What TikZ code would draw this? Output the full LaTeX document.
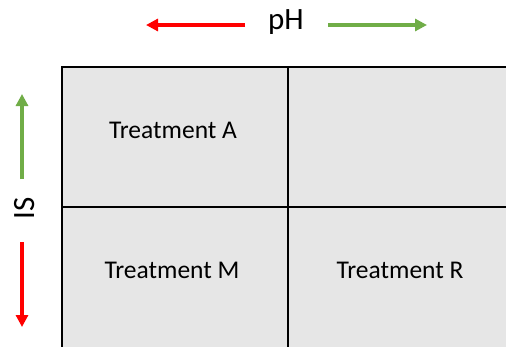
\documentclass[tikz,border=0pt]{standalone}
\usepackage{fontspec}
\setmainfont{Carlito}
\usetikzlibrary{arrows.meta}
\definecolor{cellgray}{HTML}{E6E6E6}
\definecolor{arrred}{HTML}{FF0000}
\definecolor{arrgreen}{HTML}{70AD47}
\tikzset{
  cell/.style={draw=black,line width=1.8pt,fill=cellgray,minimum width=226pt,minimum height=143pt,inner sep=0pt},
  celltext/.style={font=\fontsize{25.5}{28}\selectfont,inner sep=0pt},
  axislabel/.style={font=\fontsize{31}{34}\selectfont,inner sep=0pt},
  axarrow/.style={line width=3.2pt,-{Triangle[length=12pt,width=12pt]}},
}
\begin{document}
\begin{tikzpicture}[x=1pt,y=-1pt]
\useasboundingbox (0,0) rectangle (506,346);
\clip (0,0) rectangle (506,346);
\fill[white] (0,0) rectangle (506,346);
\node[cell,anchor=north west] (A) at (61,66) {};
\node[cell,anchor=north west] (B) at (287,66) {};
\node[cell,anchor=north west] (M) at (61,206) {};
\node[cell,anchor=north west] (R) at (287,206) {};
\node[celltext] (tA) at (173,130) {Treatment A};
\node[celltext] (tM) at (172,270) {Treatment M};
\node[celltext] (tR) at (400,270) {Treatment R};
% pH axis
\node[axislabel] (ph) at (286,22) {pH};
\coordinate (l0) at (245,25);
\coordinate (l1) at (146,25);
\coordinate (r0) at (328,25);
\coordinate (r1) at (427,25);
\draw[axarrow,arrred] (l0) -- (l1);
\draw[axarrow,arrgreen] (r0) -- (r1);
% IS axis
\node[axislabel,rotate=90] (is) at (25,208) {IS};
\coordinate (u0) at (22,179);
\coordinate (u1) at (22,94);
\coordinate (d0) at (22,242);
\coordinate (d1) at (22,327);
\draw[axarrow,arrgreen] (u0) -- (u1);
\draw[axarrow,arrred] (d0) -- (d1);
\end{tikzpicture}
\end{document}
